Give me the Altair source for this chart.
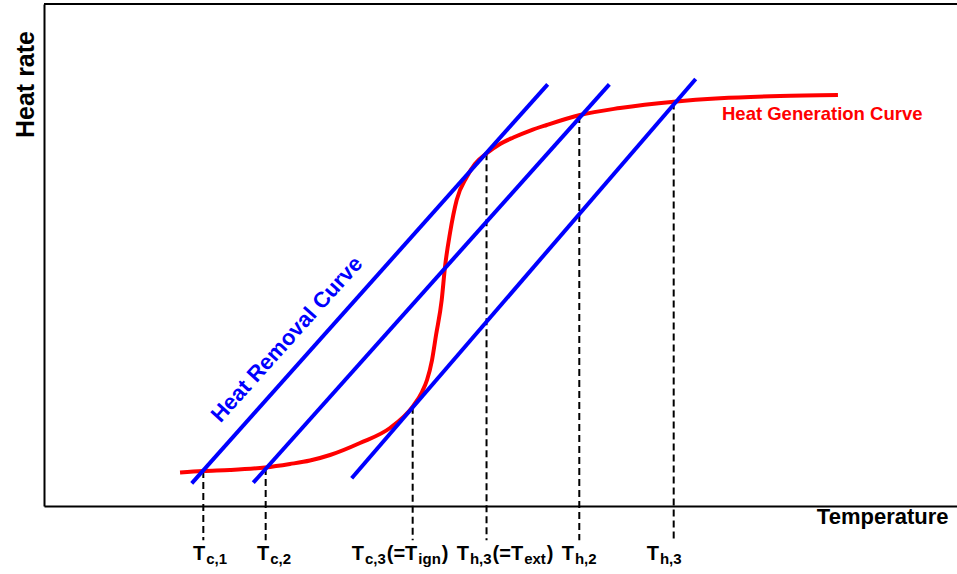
import altair as alt
import pandas as pd

FONT = "Liberation Sans"
RED = "#ff0000"
BLUE = "#0000ff"

PLOT_W, PLOT_H = 913, 502
T_MAX, Q_MAX = 100, 100

# Heat generation curve (S-shaped), temperature vs heat rate in arbitrary units
gen_T = [14.90, 17.41, 20.37, 24.21, 26.94, 29.13, 31.33, 34.61, 37.90, 40.38,
         41.40, 41.95, 42.50, 42.94, 43.56, 43.92, 44.47, 45.20, 46.30, 47.20,
         48.49, 49.95, 51.40, 53.26, 55.06, 58.71, 63.09, 69.00, 74.04, 80.61,
         86.96]
gen_Q = [6.67, 6.97, 7.17, 7.67, 8.37, 9.06, 10.16, 12.55, 15.54, 19.78,
         22.71, 25.10, 29.08, 34.06, 41.04, 47.61, 54.38, 60.96, 65.54, 68.13,
         70.26, 72.11, 73.41, 74.80, 75.90, 77.89, 79.28, 80.54, 81.22, 81.67,
         81.87]

# Heat removal lines (three coolant temperatures): start / end points
rem_T0 = [16.18, 22.92, 33.70]
rem_Q0 = [4.52, 4.64, 5.52]
rem_T1 = [55.17, 61.92, 71.38]
rem_Q1 = [84.00, 84.00, 85.06]

# Steady-state operating points (intersections of the two curves)
ss_T = [17.45, 24.28, 40.38, 48.47, 58.63, 68.97]
ss_Q = [6.97, 7.57, 19.78, 70.26, 77.69, 80.38]
ss_floor = -6.8          # where the guide lines stop below the axis

# Labels under the axis: (text, is_subscript) pieces
label_start = [16.32, 23.33, 33.70, 45.20, 56.70, 66.01]
label_parts = [
    [("T", 0), ("c,1", 1)],
    [("T", 0), ("c,2", 1)],
    [("T", 0), ("c,3", 1), ("(=T", 0), ("ign", 1), (")", 0)],
    [("T", 0), ("h,3", 1), ("(=T", 0), ("ext", 1), (")", 0)],
    [("T", 0), ("h,2", 1)],
    [("T", 0), ("h,3", 1)],
]
label_base = -10.76

MAIN_SIZE, SUB_SIZE = 20, 15

# Helvetica/Arial bold advance widths (per 1000 em) to lay pieces side by side
ADV = {"T": 611, "c": 556, ",": 278, "1": 556, "2": 556, "3": 556, "(": 333,
       "=": 584, "i": 278, "g": 611, "n": 611, ")": 333, "h": 611, "e": 556,
       "x": 556, "t": 333}


def text_width(s, size):
    return sum(ADV.get(ch, 556) for ch in s) * size / 1000.0


units_per_px = T_MAX / PLOT_W
rows = []
for start, parts in zip(label_start, label_parts):
    off = 0.0
    for txt, sub in parts:
        size = SUB_SIZE if sub else MAIN_SIZE
        rows.append({"T": start + off * units_per_px, "Q": label_base,
                     "txt": txt, "sub": sub})
        off += text_width(txt, size) + 1.0
pieces = pd.DataFrame(rows)

gen = pd.DataFrame({"T": gen_T, "Q": gen_Q})
rem = pd.DataFrame({"T": rem_T0, "Q": rem_Q0, "T2": rem_T1, "Q2": rem_Q1})
ss = pd.DataFrame({"T": ss_T, "Q": ss_Q, "Q0": [ss_floor] * len(ss_T)})

xs = alt.Scale(domain=[0, T_MAX], nice=False, zero=False)
ys = alt.Scale(domain=[0, Q_MAX], nice=False, zero=False)

x_axis = alt.Axis(title="Temperature", grid=False, ticks=False, labels=False,
                  domain=True, domainColor="black", domainWidth=2,
                  titleFont=FONT, titleFontSize=22, titleFontWeight="bold",
                  titleColor="black", titleX=904, titleY=17,
                  titleAlign="right", titleBaseline="alphabetic")
y_axis = alt.Axis(title="Heat rate", grid=False, ticks=False, labels=False,
                  domain=True, domainColor="black", domainWidth=2,
                  titleFont=FONT, titleFontSize=25, titleFontWeight="bold",
                  titleColor="black", titleAngle=270, titleX=-11, titleY=80,
                  titleAlign="center", titleBaseline="alphabetic")

# top edge of the frame
top_edge = alt.Chart(pd.DataFrame({"a": [0]})).mark_rule(
    color="black", strokeWidth=2, clip=False
).encode(
    x=alt.datum(0, scale=xs), x2=alt.datum(T_MAX), y=alt.datum(Q_MAX, scale=ys)
)

guides = alt.Chart(ss).mark_rule(
    color="black", strokeWidth=2, strokeDash=[7, 4], clip=False
).encode(
    x=alt.X("T:Q", scale=xs, axis=x_axis),
    y=alt.Y("Q:Q", scale=ys, axis=y_axis),
    y2="Q0:Q",
)

generation = alt.Chart(gen).mark_line(
    color=RED, strokeWidth=4, interpolate="monotone", clip=False
).encode(
    x=alt.X("T:Q", scale=xs),
    y=alt.Y("Q:Q", scale=ys),
)

removal = alt.Chart(rem).mark_rule(
    color=BLUE, strokeWidth=4, clip=False
).encode(
    x=alt.X("T:Q", scale=xs), y=alt.Y("Q:Q", scale=ys),
    x2="T2:Q", y2="Q2:Q",
)

main_txt = alt.Chart(pieces).transform_filter("datum.sub == 0").mark_text(
    font=FONT, fontWeight="bold", fontSize=MAIN_SIZE, align="left",
    baseline="alphabetic", color="black", clip=False
).encode(x=alt.X("T:Q", scale=xs), y=alt.Y("Q:Q", scale=ys), text="txt:N")

sub_txt = alt.Chart(pieces).transform_filter("datum.sub == 1").mark_text(
    font=FONT, fontWeight="bold", fontSize=SUB_SIZE, align="left",
    baseline="alphabetic", color="black", dy=4, clip=False
).encode(x=alt.X("T:Q", scale=xs), y=alt.Y("Q:Q", scale=ys), text="txt:N")

gen_label = alt.Chart(pd.DataFrame({"t": ["Heat Generation Curve"]})).mark_text(
    font=FONT, fontWeight="bold", fontSize=18.5, color=RED, align="left",
    baseline="alphabetic"
).encode(x=alt.datum(74.26, scale=xs), y=alt.datum(76.89, scale=ys), text="t:N")

rem_label = alt.Chart(pd.DataFrame({"t": ["Heat Removal Curve"]})).mark_text(
    font=FONT, fontWeight="bold", fontSize=22, color=BLUE, align="center",
    baseline="middle", angle=312
).encode(x=alt.datum(26.6, scale=xs), y=alt.datum(33.2, scale=ys), text="t:N")

chart = alt.layer(
    top_edge, guides, generation, removal, main_txt, sub_txt, gen_label, rem_label
).properties(
    width=PLOT_W, height=PLOT_H,
    autosize=alt.AutoSizeParams(type="none"),
    padding={"left": 44, "top": 4, "right": 0, "bottom": 68},
).configure_view(stroke=None).configure(background="white")

chart.save("out.html", embed_options={"renderer": "svg", "actions": False})
